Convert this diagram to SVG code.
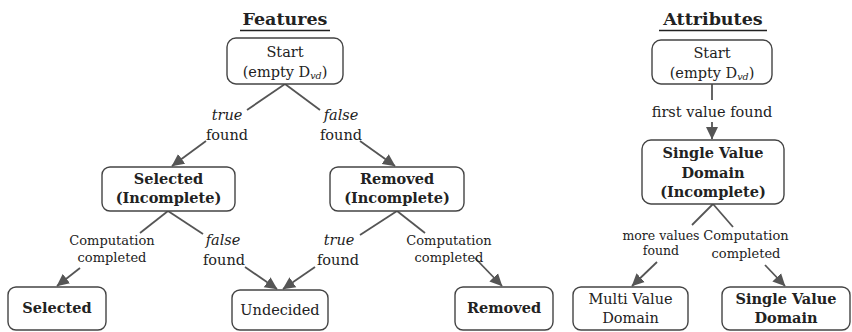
<svg xmlns="http://www.w3.org/2000/svg" width="852" height="332" viewBox="0 0 852 332">
<defs>
<style>
.box{fill:#fff;stroke:#444;stroke-width:1.4}
text{font-family:"DejaVu Serif","Liberation Serif",serif;fill:#222;text-anchor:middle}
.n{font-size:14.5px}
.b{font-size:14.5px;font-weight:bold}
.t{font-size:17.5px;font-weight:bold}
.l{font-size:14.5px}
.s{font-size:13px}
.m{font-size:12.5px}
.i{font-style:italic}
.sub{font-size:9.5px;font-style:italic}
.c{stroke:#555;stroke-width:1.8;fill:none}
.a{marker-end:url(#arr)}
</style>
<marker id="arr" markerUnits="userSpaceOnUse" markerWidth="13" markerHeight="13" refX="12" refY="6.5" orient="auto" viewBox="0 0 13 13">
<path d="M0,0.5 L12.5,6.5 L0,12.5 z" fill="#555"/>
</marker>
</defs>

<g id="titles">
<text class="t" x="285" y="25">Features</text>
<line x1="240" y1="30.5" x2="330" y2="30.5" stroke="#222" stroke-width="1.3"/>
<text class="t" x="713" y="25">Attributes</text>
<line x1="659" y1="30.5" x2="767" y2="30.5" stroke="#222" stroke-width="1.3"/>
</g>

<g id="connectors">
<line class="c" x1="285" y1="84" x2="247" y2="110"/>
<line class="c" x1="285" y1="84" x2="320" y2="110"/>
<line class="c a" x1="206" y1="141" x2="172" y2="166"/>
<line class="c a" x1="360" y1="141" x2="395" y2="166"/>
<line class="c" x1="168" y1="211" x2="140" y2="233"/>
<line class="c" x1="168" y1="211" x2="203" y2="234"/>
<line class="c a" x1="80" y1="268" x2="57" y2="286"/>
<line class="c a" x1="245" y1="267" x2="277" y2="289"/>
<line class="c" x1="397" y1="211" x2="360" y2="235"/>
<line class="c" x1="397" y1="211" x2="425" y2="233"/>
<line class="c a" x1="315" y1="267" x2="283" y2="289"/>
<line class="c a" x1="475" y1="258" x2="502" y2="286"/>
<line class="c" x1="712" y1="84" x2="712" y2="100"/>
<line class="c a" x1="712" y1="122" x2="712" y2="139"/>
<line class="c" x1="713" y1="204" x2="692" y2="225"/>
<line class="c" x1="713" y1="204" x2="733" y2="227"/>
<line class="c a" x1="657" y1="262" x2="632" y2="286"/>
<line class="c a" x1="765" y1="265" x2="785" y2="286"/>
</g>

<g id="labels">
<text class="l i" x="227" y="120">true</text>
<text class="l" x="227" y="140">found</text>
<text class="l i" x="341" y="120">false</text>
<text class="l" x="341" y="140">found</text>
<text class="s" x="112" y="245">Computation</text>
<text class="s" x="112" y="262">completed</text>
<text class="l i" x="223" y="245">false</text>
<text class="l" x="224" y="265">found</text>
<text class="l i" x="339" y="245">true</text>
<text class="l" x="338" y="265">found</text>
<text class="s" x="449" y="245">Computation</text>
<text class="s" x="449" y="262">completed</text>
<text class="l" x="712" y="117">first value found</text>
<text class="m" x="661" y="240">more values</text>
<text class="m" x="661" y="255">found</text>
<text class="s" x="746" y="240">Computation</text>
<text class="s" x="746" y="258">completed</text>
</g>

<g id="f_start">
<rect class="box" x="227" y="38" width="116" height="46" rx="9"/>
<text class="n" x="285" y="57">Start</text>
<text class="n" x="285" y="77">(empty D<tspan class="sub" dy="2">vd</tspan><tspan dy="-2">)</tspan></text>
</g>
<g id="f_selected_incomplete">
<rect class="box" x="102" y="167" width="133" height="44" rx="8"/>
<text class="b" x="168.5" y="184">Selected</text>
<text class="b" x="168.5" y="203">(Incomplete)</text>
</g>
<g id="f_removed_incomplete">
<rect class="box" x="330" y="167" width="134" height="44" rx="8"/>
<text class="b" x="397" y="184">Removed</text>
<text class="b" x="397" y="203">(Incomplete)</text>
</g>
<g id="f_selected">
<rect class="box" x="8" y="287" width="98" height="43" rx="8"/>
<text class="b" x="57" y="313">Selected</text>
</g>
<g id="f_undecided">
<rect class="box" x="232" y="290" width="96" height="40" rx="8"/>
<text class="n" x="280" y="315">Undecided</text>
</g>
<g id="f_removed">
<rect class="box" x="455" y="287" width="98" height="43" rx="8"/>
<text class="b" x="504" y="313">Removed</text>
</g>

<g id="a_start">
<rect class="box" x="652" y="40" width="120" height="44" rx="9"/>
<text class="n" x="712" y="58">Start</text>
<text class="n" x="712" y="78">(empty D<tspan class="sub" dy="2">vd</tspan><tspan dy="-2">)</tspan></text>
</g>
<g id="a_single_incomplete">
<rect class="box" x="642" y="140" width="142" height="64" rx="9"/>
<text class="b" x="713" y="158">Single Value</text>
<text class="b" x="713" y="178">Domain</text>
<text class="b" x="713" y="197">(Incomplete)</text>
</g>
<g id="a_multi">
<rect class="box" x="573" y="287" width="115" height="43" rx="8"/>
<text class="n" x="630.5" y="304">Multi Value</text>
<text class="n" x="630.5" y="323">Domain</text>
</g>
<g id="a_single">
<rect class="box" x="722" y="287" width="128" height="43" rx="8"/>
<text class="b" x="786" y="304">Single Value</text>
<text class="b" x="786" y="323">Domain</text>
</g>
</svg>
